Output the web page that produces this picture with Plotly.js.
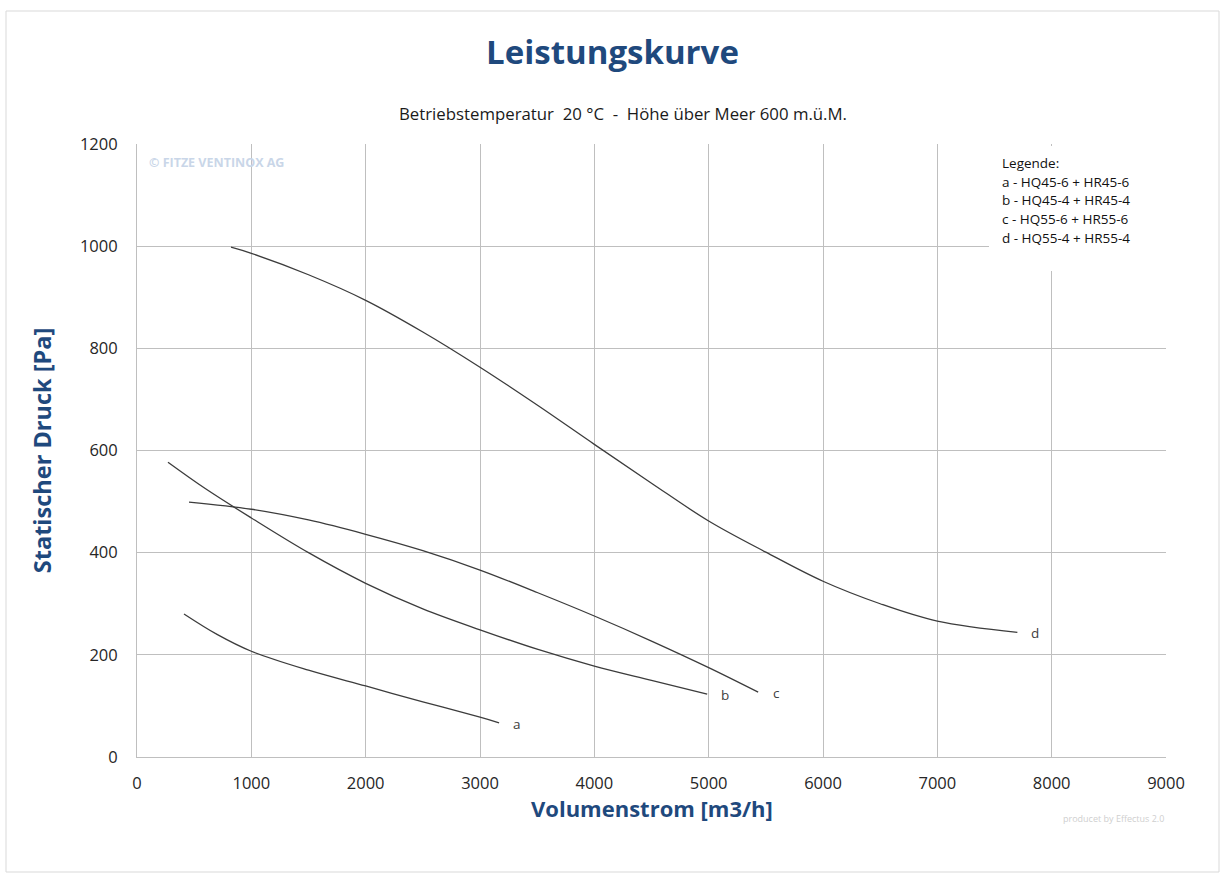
<!DOCTYPE html>
<html>
<head>
<meta charset="utf-8">
<script src="https://cdn.plot.ly/plotly-3.0.1.min.js"></script>
<style>
  html, body { margin: 0; padding: 0; background: #ffffff; }
  #chart { width: 1225px; height: 878px; }
</style>
</head>
<body>
<div id="chart"></div>
<script>
// ---- data ----
const curveNames = ["a", "b", "c", "d"];

const aX = [411, 700, 1000, 1500, 2000, 2500, 3000, 3167];
const aY = [280, 240, 207, 170, 139, 108, 78, 67];

const bX = [271, 600, 1000, 1500, 2000, 2500, 3000, 3500, 4000, 4500, 4987];
const bY = [577, 525, 468, 400, 340, 290, 249, 211, 178, 150, 123];

const cX = [455, 1000, 1500, 2000, 2500, 3000, 3500, 4000, 4500, 5000, 5433];
const cY = [499, 485, 464, 436, 404, 366, 322, 276, 227, 175, 127];

const dX = [822, 1000, 1500, 2000, 2500, 3000, 3500, 4000, 4500, 5000, 5500, 6000, 6500, 7000, 7700];
const dY = [998, 986, 944, 894, 832, 763, 689, 612, 536, 462, 401, 344, 300, 266, 244];

const xTickVals = [0, 1000, 2000, 3000, 4000, 5000, 6000, 7000, 8000, 9000];
const yTickVals = [0, 200, 400, 600, 800, 1000, 1200];

const titleText = "Leistungskurve";
const subtitleText = "Betriebstemperatur&nbsp;&nbsp;20 °C&nbsp;&nbsp;-&nbsp;&nbsp;Höhe über Meer 600 m.ü.M.";
const xTitle = "Volumenstrom [m3/h]";
const yTitle = "Statischer Druck [Pa]";
const legendLines = [
  "Legende:",
  "a - HQ45-6 + HR45-6",
  "b - HQ45-4 + HR45-4",
  "c - HQ55-6 + HR55-6",
  "d - HQ55-4 + HR55-4"
];
const watermarkText = "© FITZE VENTINOX AG";
const creditText = "producet by Effectus 2.0";

// ---- styling ----
const FONT = "Open Sans, Noto Sans, sans-serif";
const BLUE = "#1f497d";
const GRID = "#bfbfbf";
const CURVE = "#3c3c3c";

const series = [[aX, aY], [bX, bY], [cX, cY], [dX, dY]];

const traces = series.map((s, i) => ({
  type: "scatter",
  mode: "lines",
  x: s[0],
  y: s[1],
  name: curveNames[i],
  line: { color: CURVE, width: 1.3, shape: "spline", smoothing: 1 },
  hoverinfo: "x+y+name",
  showlegend: false
}));

// plot-area geometry (pixels) used for paper conversion of decorations
const W = 1225, H = 878;
const M = { l: 137, r: 59, t: 144, b: 121 };
const PW = W - M.l - M.r, PH = H - M.t - M.b;
const px = x => (x - M.l) / PW;
const py = y => (H - M.b - y) / PH;

const annotations = [];

// subtitle
annotations.push({
  xref: "paper", yref: "paper", x: px(623), y: py(113),
  text: subtitleText, showarrow: false, xanchor: "center", yanchor: "middle",
  font: { family: FONT, size: 16.8, color: "#1a1a1a" }
});

// x axis title
annotations.push({
  xref: "paper", yref: "paper", x: 0.5, y: py(808),
  text: "<b>" + xTitle + "</b>", showarrow: false, xanchor: "center", yanchor: "middle",
  font: { family: FONT, size: 22, color: BLUE }
});

// curve end labels
series.forEach((s, i) => {
  const n = s[0].length - 1;
  annotations.push({
    x: s[0][n], y: s[1][n], xref: "x", yref: "y",
    text: curveNames[i], showarrow: false, xshift: 18, yshift: -1,
    xanchor: "center", yanchor: "middle",
    font: { family: FONT, size: 13.5, color: "#404040" }
  });
});

// legend text box
legendLines.forEach((t, i) => {
  annotations.push({
    xref: "paper", yref: "paper", x: px(1000), y: py(163 + i * 18.7),
    text: t, showarrow: false, xanchor: "left", yanchor: "middle",
    font: { family: FONT, size: 13.5, color: "#111111" }
  });
});

// watermark + credit
annotations.push({
  xref: "paper", yref: "paper", x: px(147), y: py(162),
  text: "<b>" + watermarkText + "</b>", showarrow: false, xanchor: "left", yanchor: "middle",
  font: { family: FONT, size: 12.5, color: "#c9d6e8" }
});
annotations.push({
  xref: "paper", yref: "paper", x: px(1166), y: py(818),
  text: creditText, showarrow: false, xanchor: "right", yanchor: "middle",
  font: { family: FONT, size: 9, color: "#cfcfcf" }
});

const shapes = [
  // outer chart frame
  { type: "rect", xref: "paper", yref: "paper",
    x0: px(6), x1: px(1219), y0: py(872), y1: py(11),
    line: { color: "#d9d9d9", width: 1 }, fillcolor: "rgba(0,0,0,0)", layer: "below" },
  // legend box background (covers grid)
  { type: "rect", xref: "paper", yref: "paper",
    x0: px(989), x1: px(1172), y0: py(271), y1: py(146),
    line: { width: 0 }, fillcolor: "#ffffff", layer: "above" }
];

const layout = {
  width: W, height: H,
  margin: M,
  paper_bgcolor: "#ffffff",
  plot_bgcolor: "#ffffff",
  font: { family: FONT, color: "#262626" },
  title: {
    text: "<b>" + titleText + "</b>",
    x: 0.5, xanchor: "center", xref: "container",
    y: 1 - 52 / H, yanchor: "middle", yref: "container",
    font: { family: FONT, size: 33, color: BLUE }
  },
  xaxis: {
    range: [0, 9000],
    tickvals: xTickVals,
    showgrid: true, gridcolor: GRID, gridwidth: 1,
    zeroline: false,
    showline: true, linecolor: GRID, linewidth: 1, mirror: false,
    ticks: "", ticklabelstandoff: 11,
    tickfont: { family: FONT, size: 16.5, color: "#262626" },
    fixedrange: true
  },
  yaxis: {
    range: [0, 1200],
    tickvals: yTickVals,
    showgrid: true, gridcolor: GRID, gridwidth: 1,
    zeroline: false,
    showline: true, linecolor: GRID, linewidth: 1,
    ticks: "", ticklabelstandoff: 15,
    tickfont: { family: FONT, size: 16.5, color: "#262626" },
    title: { text: "<b>" + yTitle + "</b>", standoff: 21,
             font: { family: FONT, size: 23.5, color: BLUE } },
    fixedrange: true
  },
  annotations: annotations,
  shapes: shapes,
  showlegend: false
};

Plotly.newPlot("chart", traces, layout, { displayModeBar: false, staticPlot: true });
</script>
</body>
</html>
